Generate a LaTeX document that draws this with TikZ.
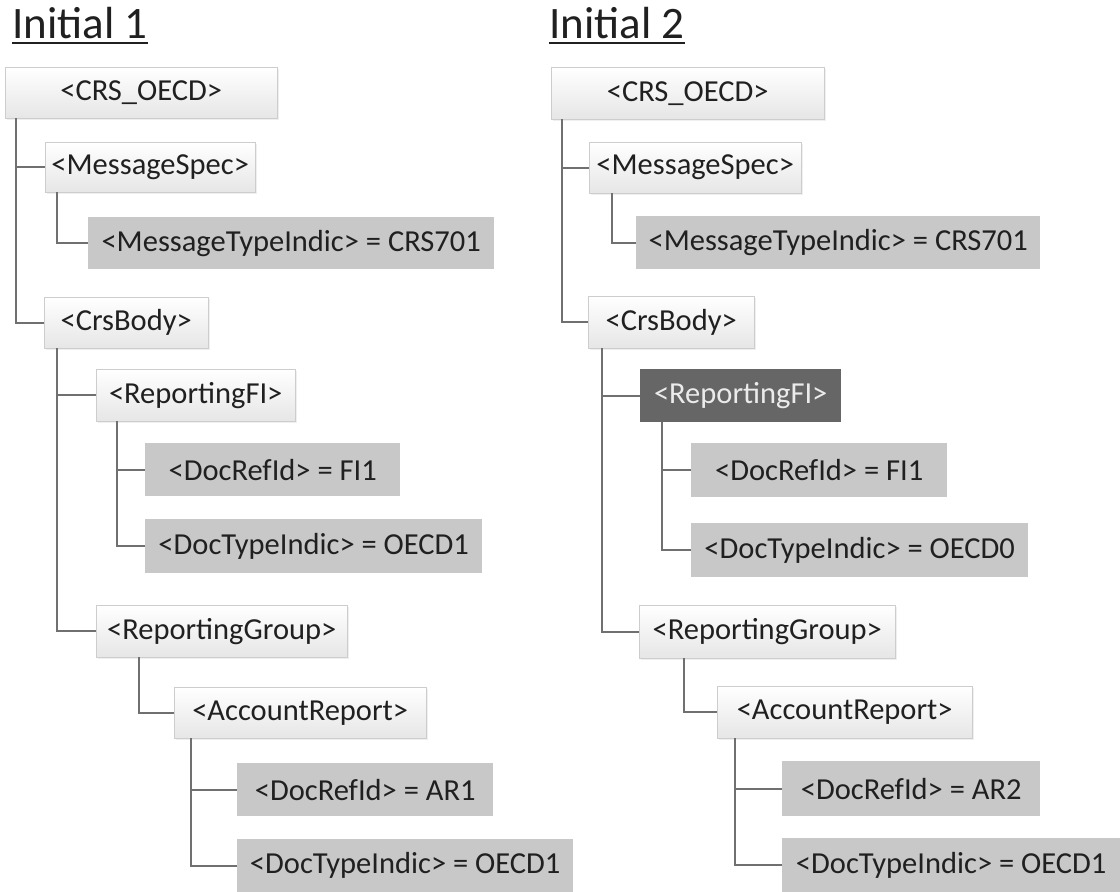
\documentclass[tikz,border=0pt]{standalone}
\usepackage{fontspec}
\setmainfont{Carlito}
\usetikzlibrary{shadows}
\definecolor{linegrey}{RGB}{112,112,112}
\definecolor{edgegrey}{RGB}{205,205,205}
\definecolor{tagfill}{RGB}{230,230,230}
\definecolor{valuefill}{RGB}{200,200,200}
\definecolor{markfill}{RGB}{102,102,102}
\definecolor{textgrey}{RGB}{32,32,32}
\tikzset{
    tag-box/.style = {draw=edgegrey, thin, top color=white, bottom color=tagfill, inner sep=0pt, anchor=north west, text=textgrey, font=\fontsize{30.5}{35}\selectfont, drop shadow={opacity=0.12, shadow xshift=2pt, shadow yshift=-2pt}},
    value-box/.style = {fill=valuefill, inner sep=0pt, anchor=north west, text=textgrey, font=\fontsize{30.5}{35}\selectfont},
    marked-box/.style = {fill=markfill, inner sep=0pt, anchor=north west, text=white!92!black, font=\fontsize{30.5}{35}\selectfont},
    tree-line/.style = {draw=linegrey, line width=2pt},
    title-text/.style = {anchor=base west, inner sep=0pt, text=textgrey, font=\fontsize{45}{52}\selectfont},
    title-rule/.style = {draw=textgrey, line width=2.5pt},
}

\begin{document}
\begin{tikzpicture}[x=1pt, y=-1pt]
\fill[white] (0,0) rectangle (1120,892);
\useasboundingbox (0,0) rectangle (1120,892);

% Initial 1
\node[title-text] (title-a) at (12,38) {Initial 1};
\draw[title-rule] ([yshift=-5pt]title-a.base west) -- ([yshift=-5pt]title-a.base east);

\node[tag-box, minimum width=272pt, minimum height=51pt] (crs-a) at (5,67) {<CRS\_OECD>};
\node[tag-box, minimum width=210pt, minimum height=50pt] (spec-a) at (45,142) {<MessageSpec>};
\node[value-box, minimum width=406pt, minimum height=52pt] (msgtype-a) at (88,217) {<MessageTypeIndic> = CRS701};
\node[tag-box, minimum width=164pt, minimum height=51pt] (body-a) at (44,297) {<CrsBody>};
\node[tag-box, minimum width=199pt, minimum height=52pt] (fi-a) at (96,369) {<ReportingFI>};
\node[value-box, minimum width=255pt, minimum height=53pt] (firef-a) at (145,443) {<DocRefId> = FI1};
\node[value-box, minimum width=337pt, minimum height=54pt] (fitype-a) at (145,519) {<DocTypeIndic> = OECD1};
\node[tag-box, minimum width=251pt, minimum height=52pt] (group-a) at (96,605) {<ReportingGroup>};
\node[tag-box, minimum width=252pt, minimum height=51pt] (acct-a) at (174,687) {<AccountReport>};
\node[value-box, minimum width=256pt, minimum height=53pt] (acctref-a) at (237,763) {<DocRefId> = AR1};
\node[value-box, minimum width=336pt, minimum height=53pt] (accttype-a) at (237,839) {<DocTypeIndic> = OECD1};

\draw[tree-line] ([xshift=11pt]crs-a.south west) |- (spec-a.west);
\draw[tree-line] ([xshift=11pt]crs-a.south west) |- (body-a.west);
\draw[tree-line] ([xshift=12pt]spec-a.south west) |- (msgtype-a.west);
\draw[tree-line] ([xshift=13pt]body-a.south west) |- (fi-a.west);
\draw[tree-line] ([xshift=13pt]body-a.south west) |- (group-a.west);
\draw[tree-line] ([xshift=21pt]fi-a.south west) |- (firef-a.west);
\draw[tree-line] ([xshift=21pt]fi-a.south west) |- (fitype-a.west);
\draw[tree-line] ([xshift=43pt]group-a.south west) |- (acct-a.west);
\draw[tree-line] ([xshift=17pt]acct-a.south west) |- (acctref-a.west);
\draw[tree-line] ([xshift=17pt]acct-a.south west) |- (accttype-a.west);

% Initial 2
\node[title-text] (title-b) at (549,38) {Initial 2};
\draw[title-rule] ([yshift=-5pt]title-b.base west) -- ([yshift=-5pt]title-b.base east);

\node[tag-box, minimum width=273pt, minimum height=52pt] (crs-b) at (551,67) {<CRS\_OECD>};
\node[tag-box, minimum width=212pt, minimum height=51pt] (spec-b) at (589,142) {<MessageSpec>};
\node[value-box, minimum width=404pt, minimum height=53pt] (msgtype-b) at (636,216) {<MessageTypeIndic> = CRS701};
\node[tag-box, minimum width=166pt, minimum height=52pt] (body-b) at (588,296) {<CrsBody>};
\node[marked-box, minimum width=201pt, minimum height=53pt] (fi-b) at (640,369) {<ReportingFI>};
\node[value-box, minimum width=256pt, minimum height=54pt] (firef-b) at (691,443) {<DocRefId> = FI1};
\node[value-box, minimum width=337pt, minimum height=54pt] (fitype-b) at (691,523) {<DocTypeIndic> = OECD0};
\node[tag-box, minimum width=256pt, minimum height=53pt] (group-b) at (639,605) {<ReportingGroup>};
\node[tag-box, minimum width=255pt, minimum height=52pt] (acct-b) at (717,686) {<AccountReport>};
\node[value-box, minimum width=258pt, minimum height=55pt] (acctref-b) at (782,761) {<DocRefId> = AR2};
\node[value-box, minimum width=338pt, minimum height=54pt] (accttype-b) at (782,838) {<DocTypeIndic> = OECD1};

\draw[tree-line] ([xshift=11pt]crs-b.south west) |- (spec-b.west);
\draw[tree-line] ([xshift=11pt]crs-b.south west) |- (body-b.west);
\draw[tree-line] ([xshift=23pt]spec-b.south west) |- (msgtype-b.west);
\draw[tree-line] ([xshift=14pt]body-b.south west) |- (fi-b.west);
\draw[tree-line] ([xshift=14pt]body-b.south west) |- (group-b.west);
\draw[tree-line] ([xshift=22pt]fi-b.south west) |- (firef-b.west);
\draw[tree-line] ([xshift=22pt]fi-b.south west) |- (fitype-b.west);
\draw[tree-line] ([xshift=45pt]group-b.south west) |- (acct-b.west);
\draw[tree-line] ([xshift=18pt]acct-b.south west) |- (acctref-b.west);
\draw[tree-line] ([xshift=18pt]acct-b.south west) |- (accttype-b.west);
\end{tikzpicture}
\end{document}
